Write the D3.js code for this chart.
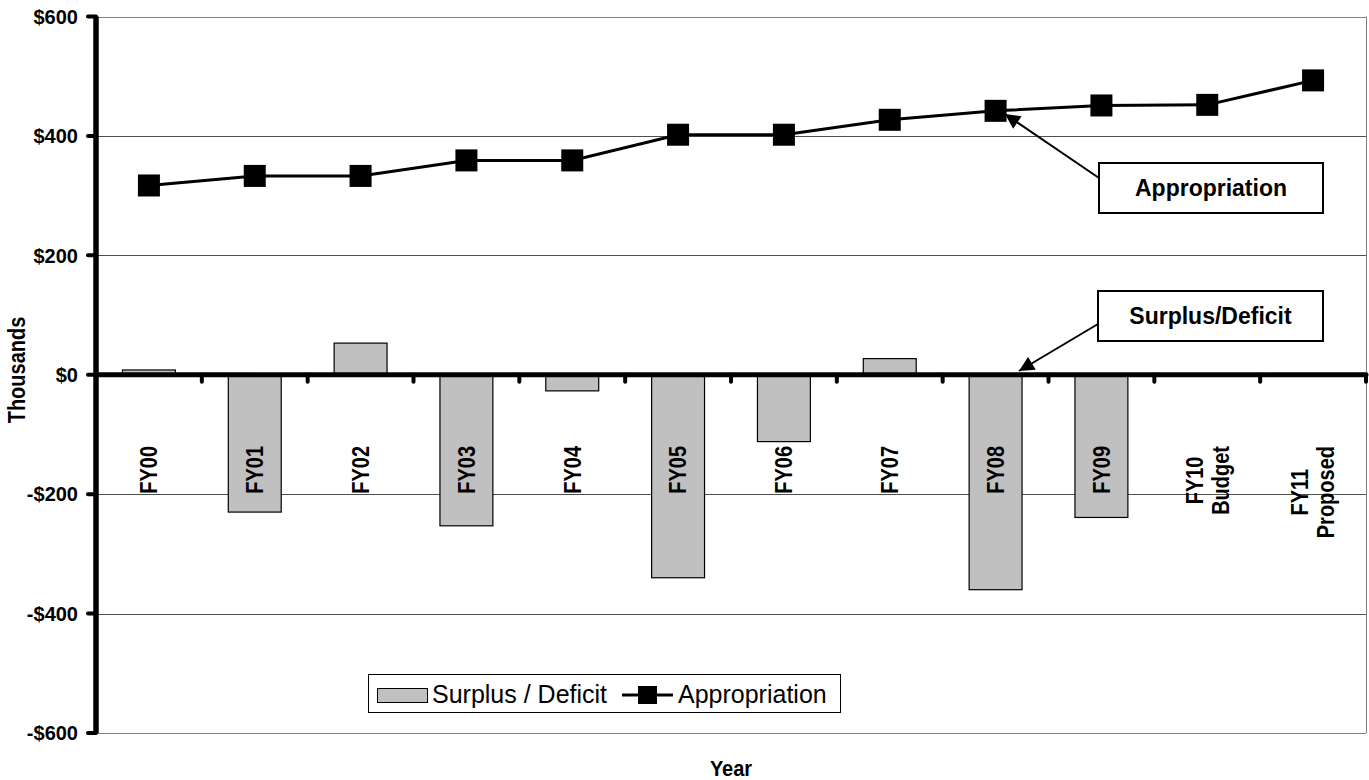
<!DOCTYPE html>
<html>
<head>
<meta charset="utf-8">
<script src="https://cdn.jsdelivr.net/npm/d3@7/dist/d3.min.js"></script>
<style>
  html, body { margin: 0; padding: 0; background: #fff; }
  svg { display: block; font-family: "Liberation Sans", Arial, sans-serif; }
</style>
</head>
<body>
<svg id="chart" width="1369" height="780"></svg>
<script>
// Fiscal years (multi-line labels split on "\n")
const categories = ["FY00", "FY01", "FY02", "FY03", "FY04", "FY05", "FY06", "FY07", "FY08", "FY09", "FY10\nBudget", "FY11\nProposed"];
// Surplus / deficit in thousands of dollars (no figures yet for FY10/FY11)
const surplus = [8, -230, 53, -253, -27, -340, -112, 27, -360, -239, null, null];
// Appropriation in thousands of dollars
const appropriation = [317, 333, 333, 359, 359, 402, 402, 427, 442, 451, 452, 493];
// Value axis ticks
const yTicks = [600, 400, 200, 0, -200, -400, -600];

const svg = d3.select("#chart");
const plotLeft = 96, plotRight = 1366, plotTop = 16.5, plotBottom = 733;

const x = d3.scaleBand().domain(categories).range([plotLeft, plotRight]).paddingInner(0.5).paddingOuter(0.25);
const y = d3.scaleLinear().domain([-600, 600]).range([plotBottom, plotTop]);
const step = x.step();
const fmt = v => v < 0 ? "-$" + Math.abs(v) : "$" + v;

// Gridlines
svg.append("g").selectAll("line").data(yTicks.filter(v => v !== 0)).join("line")
  .attr("x1", plotLeft).attr("x2", plotRight)
  .attr("y1", d => Math.round(y(d)) + 0.5).attr("y2", d => Math.round(y(d)) + 0.5)
  .attr("stroke", d => Math.abs(d) === 600 ? "#808080" : "#505050").attr("stroke-width", 1);

// Plot-area right border
svg.append("line").attr("x1", plotRight + 0.5).attr("x2", plotRight + 0.5).attr("y1", plotTop).attr("y2", plotBottom)
  .attr("stroke", "#808080").attr("stroke-width", 1);

// Surplus / deficit bars
svg.append("g").selectAll("rect").data(categories.map((c, i) => ({ c, v: surplus[i] })).filter(d => d.v !== null)).join("rect")
  .attr("x", d => x(d.c)).attr("width", x.bandwidth())
  .attr("y", d => y(Math.max(0, d.v))).attr("height", d => Math.abs(y(d.v) - y(0)))
  .attr("fill", "#c0c0c0").attr("stroke", "#000").attr("stroke-width", 1.2);

// Category axis along zero with boundary ticks
const zeroY = y(0);
const boundaries = d3.range(1, categories.length + 1).map(k => plotLeft + k * step);
svg.append("g").selectAll("line").data(boundaries).join("line")
  .attr("x1", d => d).attr("x2", d => d).attr("y1", zeroY).attr("y2", zeroY + 7)
  .attr("stroke", "#000").attr("stroke-width", 4).attr("stroke-linecap", "round");
svg.append("line").attr("x1", plotLeft).attr("x2", plotRight).attr("y1", zeroY).attr("y2", zeroY)
  .attr("stroke", "#000").attr("stroke-width", 5).attr("stroke-linecap", "round");

// Value axis
svg.append("g").selectAll("line").data(yTicks).join("line")
  .attr("x1", plotLeft - 8).attr("x2", plotLeft).attr("y1", d => y(d)).attr("y2", d => y(d))
  .attr("stroke", "#000").attr("stroke-width", 4).attr("stroke-linecap", "round");
svg.append("line").attr("x1", plotLeft).attr("x2", plotLeft).attr("y1", plotTop).attr("y2", plotBottom)
  .attr("stroke", "#000").attr("stroke-width", 5.5);
svg.append("g").selectAll("text").data(yTicks).join("text")
  .attr("x", 78).attr("y", d => y(d)).attr("dy", "0.36em")
  .attr("text-anchor", "end").attr("font-weight", "bold").attr("font-size", 20)
  .text(fmt);

// Appropriation line with square markers
const cx = c => x(c) + x.bandwidth() / 2;
svg.append("path")
  .attr("d", d3.line().x((d, i) => cx(categories[i])).y(d => y(d))(appropriation))
  .attr("fill", "none").attr("stroke", "#000").attr("stroke-width", 3);
const ms = 22;
svg.append("g").selectAll("rect").data(appropriation).join("rect")
  .attr("x", (d, i) => cx(categories[i]) - ms / 2).attr("y", d => y(d) - ms / 2)
  .attr("width", ms).attr("height", ms).attr("fill", "#000");

// Rotated category labels (slightly widened glyphs)
const labelTop = 446, lineGap = 22.6, widen = 1.15;
categories.forEach(c => {
  const lines = c.split("\n");
  const g = svg.append("g").attr("transform", `translate(${cx(c)},0) rotate(-90) scale(1,${widen})`);
  const texts = lines.map((ln, j) => g.append("text")
    .attr("font-weight", "bold").attr("font-size", 20).attr("text-anchor", "middle")
    .attr("y", (j - (lines.length - 1) / 2) * lineGap + 7.2)
    .text(ln));
  const maxW = d3.max(texts, t => t.node().getComputedTextLength());
  texts.forEach(t => t.attr("x", -(labelTop + maxW / 2)));
});

// Axis titles
svg.append("text").attr("transform", `translate(17,370) rotate(-90) scale(1,${widen})`).attr("dy", "0.36em")
  .attr("text-anchor", "middle").attr("font-weight", "bold").attr("font-size", 20).text("Thousands");
svg.append("text").attr("transform", `translate(${(plotLeft + plotRight) / 2},768) scale(1,1.12)`).attr("dy", "0.36em")
  .attr("text-anchor", "middle").attr("font-weight", "bold").attr("font-size", 20).text("Year");

// Callouts
svg.append("defs").append("marker").attr("id", "arrow").attr("viewBox", "0 0 10 10")
  .attr("refX", 10).attr("refY", 5).attr("markerWidth", 8).attr("markerHeight", 7.5)
  .attr("markerUnits", "strokeWidth").attr("orient", "auto")
  .append("path").attr("d", "M0,0 L10,5 L0,10 Z").attr("fill", "#000");

const callouts = [
  { text: "Appropriation", box: [1099, 163, 224, 50], from: [1099, 178], to: [1005, 114] },
  { text: "Surplus/Deficit", box: [1098, 291, 225, 50], from: [1098, 324], to: [1019, 371] }
];
callouts.forEach(o => {
  svg.append("line").attr("x1", o.from[0]).attr("y1", o.from[1]).attr("x2", o.to[0]).attr("y2", o.to[1])
    .attr("stroke", "#000").attr("stroke-width", 2).attr("marker-end", "url(#arrow)");
  svg.append("rect").attr("x", o.box[0]).attr("y", o.box[1]).attr("width", o.box[2]).attr("height", o.box[3])
    .attr("fill", "#fff").attr("stroke", "#000").attr("stroke-width", 2);
  svg.append("text").attr("x", o.box[0] + o.box[2] / 2).attr("y", o.box[1] + o.box[3] / 2).attr("dy", "0.36em")
    .attr("text-anchor", "middle").attr("font-weight", "bold").attr("font-size", 23).text(o.text);
});

// Legend
const lg = svg.append("g");
lg.append("rect").attr("x", 368.5).attr("y", 674.5).attr("width", 472).attr("height", 38)
  .attr("fill", "#fff").attr("stroke", "#000").attr("stroke-width", 1);
lg.append("rect").attr("x", 377.5).attr("y", 688.5).attr("width", 50).attr("height", 14)
  .attr("fill", "#c0c0c0").attr("stroke", "#000").attr("stroke-width", 1);
lg.append("text").attr("x", 432).attr("y", 694).attr("dy", "0.36em").attr("font-size", 25).text("Surplus / Deficit");
lg.append("line").attr("x1", 622).attr("x2", 673).attr("y1", 695).attr("y2", 695).attr("stroke", "#000").attr("stroke-width", 3);
lg.append("rect").attr("x", 638).attr("y", 686).attr("width", 19).attr("height", 18).attr("fill", "#000");
lg.append("text").attr("x", 678).attr("y", 694).attr("dy", "0.36em").attr("font-size", 25).text("Appropriation");
</script>
</body>
</html>
